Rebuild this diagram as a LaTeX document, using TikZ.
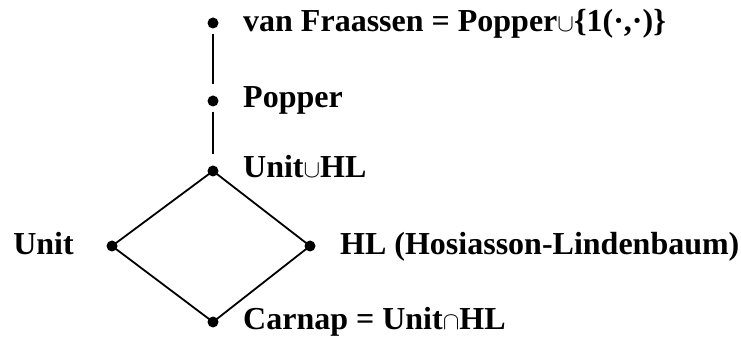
\documentclass[tikz,border=0pt]{standalone}
\usepackage{fontspec}
\setmainfont{Liberation Serif}
\begin{document}
\begin{tikzpicture}[x=1pt,y=1pt,
  vertex/.style={circle,fill=black,inner sep=0pt,minimum size=11pt},
  lbl/.style={inner sep=0pt,font=\fontsize{32}{36}\selectfont\bfseries},
  edge/.style={line width=1.8pt},
  chain/.style={line width=2pt,shorten <=5pt,shorten >=11pt}]
  \useasboundingbox (0,0) rectangle (741,340);

  % points of the lattice
  \node[vertex] (vf)  at (213,317) {};
  \node[vertex] (pop) at (213,239) {};
  \node[vertex] (uhl) at (213,169) {};
  \node[vertex] (un)  at (112,94)  {};
  \node[vertex] (hl)  at (310,94)  {};
  \node[vertex] (car) at (213,18)  {};

  % labels
  \node[lbl,anchor=base west] (tvf)  at (243,308) {van Fraassen = Popper$\cup$\{1(\textperiodcentered,\textperiodcentered)\}};
  \node[lbl,anchor=base west] (tpop) at (243,232) {Popper};
  \node[lbl,anchor=base west] (tuhl) at (243,162) {Unit$\cup$HL};
  \node[lbl,anchor=base east] (tun)  at (74,85)   {Unit};
  \node[lbl,anchor=base west] (thl)  at (340,85)  {HL (Hosiasson-Lindenbaum)};
  \node[lbl,anchor=base west] (tcar) at (243,11)  {Carnap = Unit$\cap$HL};

  % order relations
  \draw[chain] (vf) -- (pop);
  \draw[chain] (pop) -- (uhl);
  \draw[edge,line join=round] (uhl.center) -- (un.center) -- (car.center) -- (hl.center) -- cycle;
\end{tikzpicture}
\end{document}
